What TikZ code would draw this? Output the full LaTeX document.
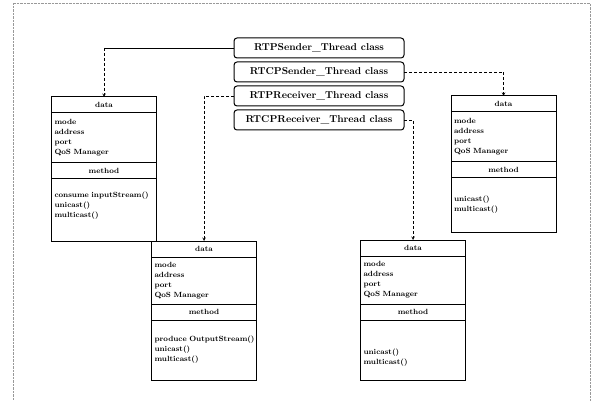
\documentclass[tikz,border=0pt]{standalone}
\usetikzlibrary{positioning}
\tikzset{
    thread/.style={draw, line width=1pt, rounded corners=3pt, minimum width=170pt, minimum height=20pt, outer sep=0pt, font=\bfseries},
    head/.style={draw, line width=1pt, minimum width=105pt, minimum height=16pt, inner sep=0pt, outer sep=0pt, font=\bfseries\fontsize{7.5}{10}\selectfont},
    list/.style={draw, line width=1pt, minimum width=105pt, text width=99pt, align=left, inner xsep=3pt, inner ysep=0pt, outer sep=0pt, font=\bfseries\fontsize{7.5}{10}\selectfont},
    link/.style={->, densely dashed, line width=0.6pt},
}
\begin{document}
\begin{tikzpicture}[x=1pt,y=-1pt,>=stealth]
    \useasboundingbox (0,0) rectangle (600,401);
    \draw[black!40, densely dotted](13,401)--(13,3)--(590,3)--(590,401);
    % thread classes
    \node[thread] (rtps) at (319,48) {RTPSender\_Thread class};
    \node[thread] (rtcps) at (319,72) {RTCPSender\_Thread class};
    \node[thread] (rtpr) at (319,96) {RTPReceiver\_Thread class};
    \node[thread] (rtcpr) at (319,120) {RTCPReceiver\_Thread class};
    % data / method boxes
    \foreach \n/\x/\y/\a/\h/\ops in {
        1/104/97/50pt/62pt/{\mbox{consume inputStream()}\\unicast()\\multicast()\\\mbox{}},
        2/503.5/96/50pt/54pt/{unicast()\\multicast()},
        3/204/241/47pt/60pt/{\mbox{produce OutputStream()}\\unicast()\\multicast()},
        4/413/240/48pt/60pt/{\mbox{}\\\mbox{}\\unicast()\\multicast()}}
    {
        \node[head, anchor=north] (d\n) at (\x,\y) {data};
        \node[list, below=0pt of d\n, minimum height=\a] (a\n) {mode\\address\\port\\QoS Manager};
        \node[head, below=0pt of a\n] (m\n) {method};
        \node[list, below=0pt of m\n, minimum height=\h] (f\n) {\ops};
    }
    % connectors
    \draw[line width=0.6pt](rtps.west)--(rtps.west -| d1.north) coordinate (c1);
    \draw[link](c1)--(d1.north);
    \draw[link](rtcps.east)-|(d2.north);
    \draw[link](rtpr.west)-|(d3.north);
    \draw[link](rtcpr.east)-|(d4.north);
\end{tikzpicture}
\end{document}
